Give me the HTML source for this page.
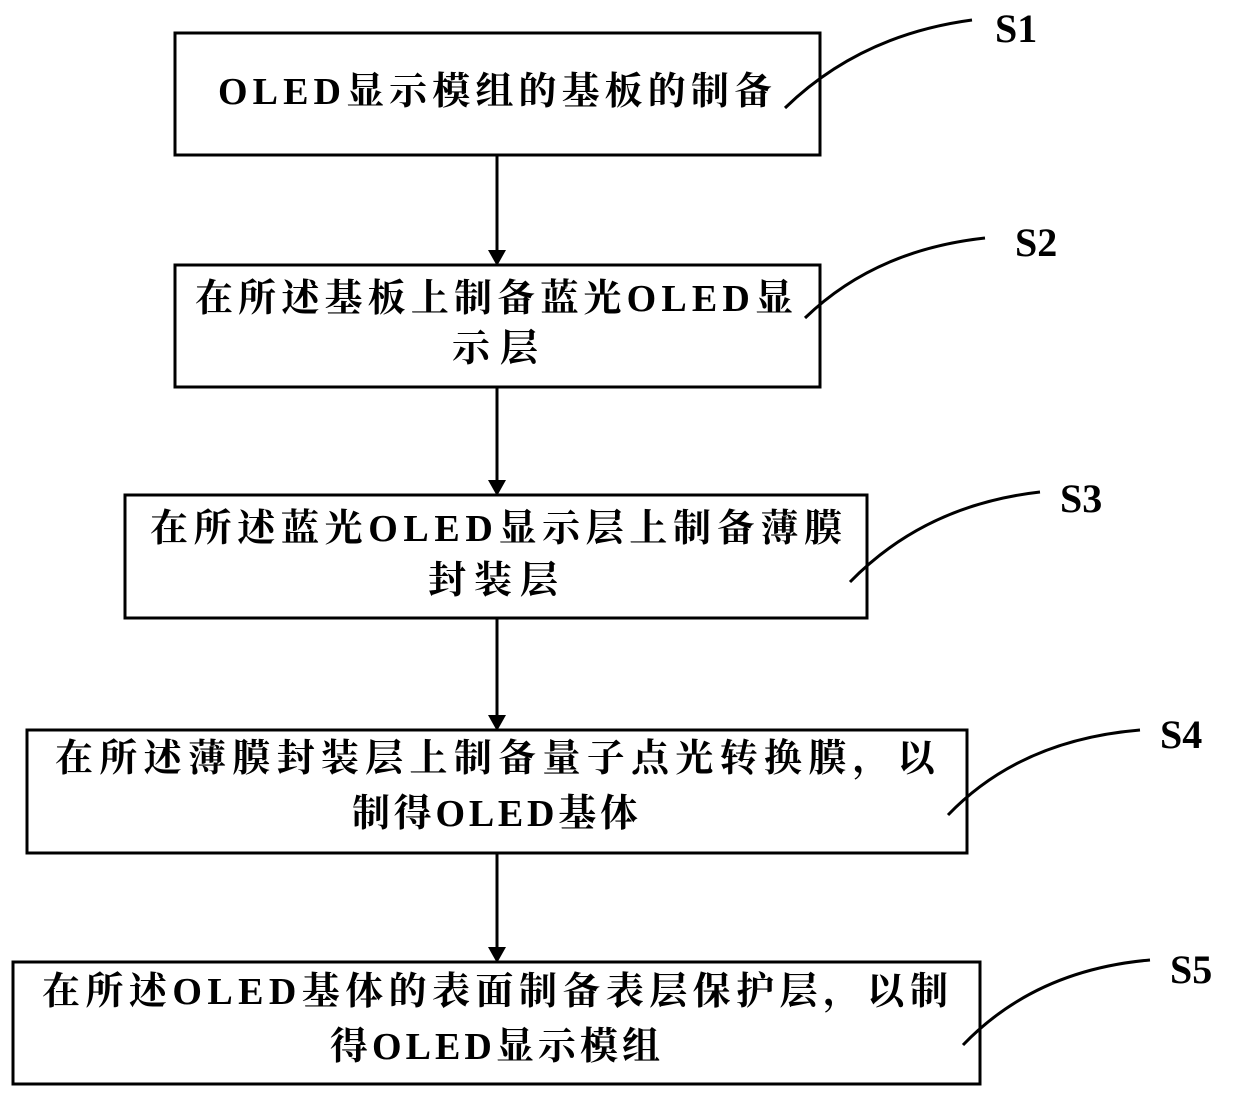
<!DOCTYPE html>
<html><head><meta charset="utf-8"><style>
html,body{margin:0;padding:0;background:#fff;}
svg{display:block;}
text{font-family:"Liberation Serif","Noto Serif CJK SC",serif;font-weight:bold;font-size:38px;fill:#000;}
.s{font-size:40px;}
</style></head><body>
<svg width="1240" height="1094" viewBox="0 0 1240 1094" xmlns="http://www.w3.org/2000/svg">
<g fill="none" stroke="#000" stroke-width="3">
<rect x="175" y="33" width="645" height="122"/>
<rect x="175" y="265" width="645" height="122"/>
<rect x="125" y="495" width="742" height="123"/>
<rect x="27" y="730" width="940" height="123"/>
<rect x="13" y="962" width="967" height="122"/>
<line x1="497" y1="155" x2="497" y2="252"/>
<line x1="497" y1="387" x2="497" y2="482"/>
<line x1="497" y1="618" x2="497" y2="717"/>
<line x1="497" y1="853" x2="497" y2="949"/>
<path d="M785 108 Q860 35 972 20"/>
<path d="M805 318 Q875 250 985 238"/>
<path d="M850 582 Q925 505 1040 492"/>
<path d="M948 815 Q1020 740 1140 730"/>
<path d="M963 1045 Q1035 970 1150 960"/>
</g>
<g fill="#000">
<polygon points="488,250 506,250 497,266"/>
<polygon points="488,480 506,480 497,496"/>
<polygon points="488,715 506,715 497,731"/>
<polygon points="488,947 506,947 497,963"/>
</g>
<text class="s" x="995" y="42">S1</text>
<text class="s" x="1015" y="256">S2</text>
<text class="s" x="1060" y="512">S3</text>
<text class="s" x="1160" y="748">S4</text>
<text class="s" x="1170" y="983">S5</text>
<text x="218" y="104" textLength="554" lengthAdjust="spacing">OLED显示模组的基板的制备</text>
<text x="195" y="311" textLength="598" lengthAdjust="spacing">在所述基板上制备蓝光OLED显</text>
<text x="452" y="361" textLength="86" lengthAdjust="spacing">示层</text>
<text x="150" y="541" textLength="692" lengthAdjust="spacing">在所述蓝光OLED显示层上制备薄膜</text>
<text x="428" y="593" textLength="130" lengthAdjust="spacing">封装层</text>
<text x="55" y="771" textLength="880" lengthAdjust="spacing">在所述薄膜封装层上制备量子点光转换膜，以</text>
<text x="352" y="826" textLength="286" lengthAdjust="spacing">制得OLED基体</text>
<text x="42" y="1004" textLength="906" lengthAdjust="spacing">在所述OLED基体的表面制备表层保护层，以制</text>
<text x="330" y="1059" textLength="330" lengthAdjust="spacing">得OLED显示模组</text>
</svg>
</body></html>
